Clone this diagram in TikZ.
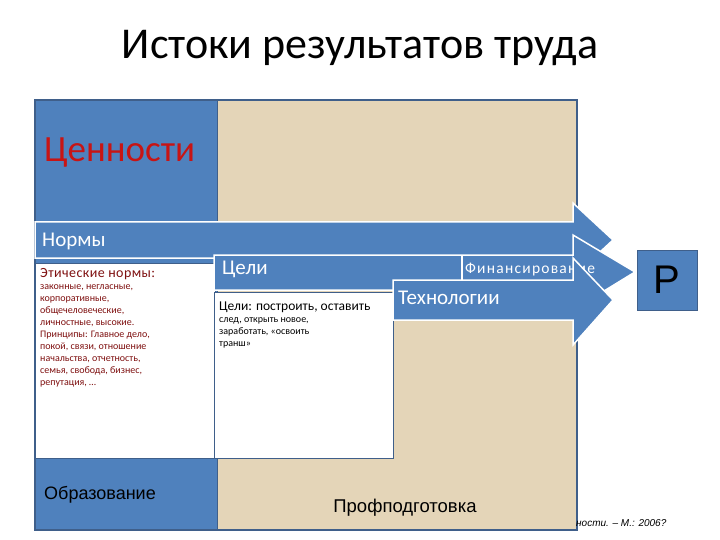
\documentclass[tikz,border=0pt]{standalone}
\usepackage{fontspec}
\setmainfont{Carlito}
\newfontfamily\arialf{Liberation Sans}
\definecolor{bl}{HTML}{4F81BD}
\definecolor{bg}{HTML}{E4D5B8}
\definecolor{fr}{HTML}{3F5F8A}
\definecolor{dr}{HTML}{7F1010}
\begin{document}
\begin{tikzpicture}[x=1pt,y=-1pt,
  arr/.style={fill=bl,draw=white,line width=1.5pt},
  wbox/.style={fill=white,draw=fr,line width=1pt},
  lbl/.style={anchor=west,inner sep=0pt,text=white}]
\useasboundingbox (0,0) rectangle (720,540);
\fill[white] (0,0) rectangle (720,540);
\node (title) at (360,48) {\fontsize{44}{50}\selectfont Истоки результатов труда};
% frame
\fill[bg] (217,100) rectangle (577,530);
\fill[bl] (35,100) rectangle (217,530);
\draw[fr,line width=1.5pt] (35,100) rectangle (577,530);
\draw[fr,line width=1pt] (217,100) -- (217,530);
\node[anchor=west,text={rgb,255:red,200;green,20;blue,20},inner sep=0pt] (cen) at (44,153) {\fontsize{37}{40}\selectfont Ценности};
% white boxes
\node[wbox,minimum width=180pt,minimum height=195pt,anchor=north west,inner sep=0pt] (wb1) at (35,263) {};
\node[anchor=north west,text=dr,align=left,inner sep=0pt] (t1) at (40,268) {\fontsize{14}{17.3}\selectfont\addfontfeature{LetterSpace=3} Этические нормы:\\законные, негласные,\\корпоративные,\\общечеловеческие,\\личностные, высокие.\\Принципы: Главное дело,\\покой, связи, отношение\\начальства, отчетность,\\семья, свобода,  бизнес,\\репутация, …};
\node[wbox,minimum width=179pt,minimum height=166pt,anchor=north west,inner sep=0pt] (wb2) at (214,292) {};
\node[anchor=north west,align=left,inner sep=0pt] (t2) at (219,302) {\fontsize{13.5}{15.5}\selectfont Цели: построить, оставить\\след, открыть новое,\\заработать, «освоить\\транш»};
% arrows
\draw[arr] (35,222) -- (573,222) -- (573,203) -- (613,240) -- (573,277) -- (573,258) -- (35,258) -- cycle;
\node[lbl] (norm) at (42,241) {\fontsize{21}{24}\selectfont Нормы};
\draw[arr] (214,255) -- (573,255) -- (573,235) -- (635,272) -- (573,310) -- (573,290) -- (214,290) -- cycle;
\draw[white,line width=1.5pt] (462,255) -- (462,290);
\node[lbl] (celi) at (222,269) {\fontsize{21}{24}\selectfont Цели};
\node[lbl] (fin) at (465,270) {\fontsize{15.5}{18}\selectfont \addfontfeature{LetterSpace=8}Финансирование};
\draw[arr] (393,280) -- (573,280) -- (573,258) -- (613,300) -- (573,345) -- (573,320) -- (393,320) -- cycle;
\node[lbl] (tech) at (398,298) {\fontsize{21}{24}\selectfont Технологии};
% P box
\node[fill=bl,draw=fr,line width=1pt,minimum width=60pt,minimum height=60pt,inner sep=0pt] (p) at (667,280) {\arialf\fontsize{40}{44}\selectfont Р};
\node[anchor=west,inner sep=0pt] (obr) at (44,495) {\arialf\fontsize{18}{20}\selectfont Образование};
\node[inner sep=0pt] (prof) at (405,508) {\arialf\fontsize{18.5}{20}\selectfont Профподготовка};
\node[anchor=west,inner sep=0pt] (ref) at (576,523) {\arialf\itshape\fontsize{10}{12}\selectfont ности. – М.: 2006?};
\end{tikzpicture}
\end{document}
